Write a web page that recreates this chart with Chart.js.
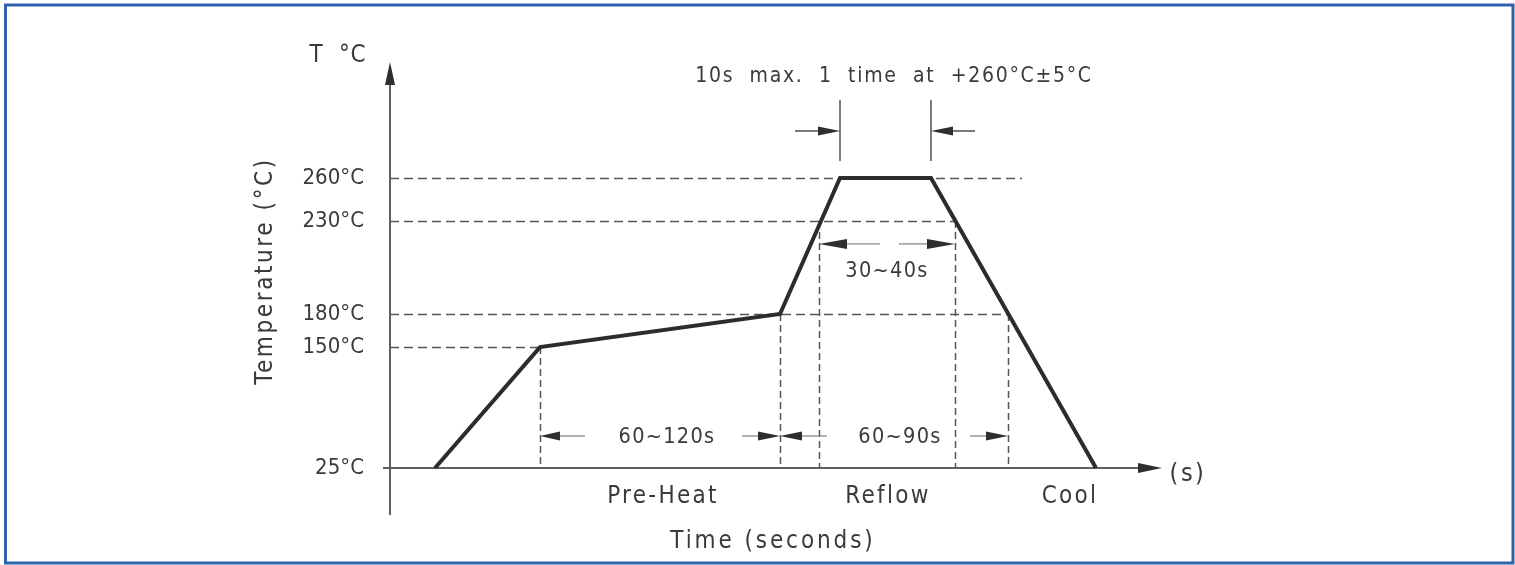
<!DOCTYPE html>
<html>
<head>
<meta charset="utf-8">
<script src="https://cdn.jsdelivr.net/npm/chart.js@4"></script>
<style>
  html, body { margin: 0; padding: 0; background: #fff; }
  #wrap { width: 1515px; height: 565px; position: relative; }
</style>
</head>
<body>
<div id="wrap"><canvas id="chart-profile"></canvas></div>
<script>
// ── Data ──

const tempTicks = [25, 150, 180, 230, 260];          // °C marks on the axis
const profileTime = [22.5, 75, 195, 225, 270.5, 353]; // schematic time units
const profileTemp = [25, 150, 180, 260, 260, 25];

// where the curve passes 230°C / 180°C
const peakIn = 214.5;
const peakOut = 282.5;
const reflowIn = 195;
const reflowOut = 309;
const preheatIn = 75;

const phaseNames = ['Pre-Heat', 'Reflow', 'Cool'];
const phaseTimes = [136.5, 249, 340];
const spanLabels = ['60~120s', '60~90s', '30~40s'];
const peakNote = '10s  max.  1  time  at  +260°C±5°C';

// the drawing is not to scale: where each mark sits on the y axis (0 = bottom, 1 = top)
const tickSpots = [0, 0.417, 0.531, 0.852, 1];

const INK = '#3a3a3a';
const GUIDE = '#555';
const FONT = "'DejaVu Sans Condensed', 'DejaVu Sans', sans-serif";
Chart.defaults.font.family = FONT;
Chart.defaults.color = INK;

function toFrac(v) {
    for (let i = 1; i < tempTicks.length; i++) {
        if (v <= tempTicks[i] || i === tempTicks.length - 1) {
            const a = tempTicks[i - 1], b = tempTicks[i];
            return tickSpots[i - 1] + (v - a) / (b - a) * (tickSpots[i] - tickSpots[i - 1]);
        }
    }
}

function fromFrac(f) {
    for (let i = 1; i < tickSpots.length; i++) {
        if (f <= tickSpots[i] || i === tickSpots.length - 1) {
            const a = tickSpots[i - 1], b = tickSpots[i];
            return tempTicks[i - 1] + (f - a) / (b - a) * (tempTicks[i] - tempTicks[i - 1]);
        }
    }
}

class SchematicScale extends Chart.LinearScale {
    static id = 'schematic';
    static defaults = Chart.LinearScale.defaults;
    getPixelForValue(value) {
        return this.getPixelForDecimal(toFrac(value));
    }
    getValueForPixel(pixel) {
        return fromFrac(this.getDecimalForPixel(pixel));
    }
}
Chart.register(SchematicScale);

// ── Drawing helpers ──

const crisp = v => Math.round(v) + 0.5;

function dashed(ctx, x1, y1, x2, y2, dash) {
    ctx.save();
    ctx.strokeStyle = GUIDE;
    ctx.lineWidth = 1.5;
    ctx.setLineDash(dash || [9, 5]);
    ctx.beginPath();
    if (y1 === y2) {
        ctx.moveTo(x1, crisp(y1));
        ctx.lineTo(x2, crisp(y2));
    } else {
        ctx.moveTo(crisp(x1), y1);
        ctx.lineTo(crisp(x2), y2);
    }
    ctx.stroke();
    ctx.restore();
}

function line(ctx, x1, y1, x2, y2, color, w) {
    ctx.save();
    ctx.strokeStyle = color;
    ctx.lineWidth = w;
    ctx.beginPath();
    ctx.moveTo(x1, y1);
    ctx.lineTo(x2, y2);
    ctx.stroke();
    ctx.restore();
}

// arrow whose tip is at (x2, y2)
function arrow(ctx, x1, y1, x2, y2, head, half, shaftColor) {
    const ang = Math.atan2(y2 - y1, x2 - x1);
    const bx = x2 - Math.cos(ang) * head, by = y2 - Math.sin(ang) * head;
    line(ctx, x1, y1, bx, by, shaftColor || GUIDE, 1.3);
    ctx.save();
    ctx.fillStyle = '#2e2e2e';
    ctx.beginPath();
    ctx.moveTo(x2, y2);
    ctx.lineTo(bx - Math.sin(ang) * half, by + Math.cos(ang) * half);
    ctx.lineTo(bx + Math.sin(ang) * half, by - Math.cos(ang) * half);
    ctx.closePath();
    ctx.fill();
    ctx.restore();
}

function text(ctx, str, x, y, size, opts = {}) {
    ctx.save();
    ctx.font = `${size}px ${FONT}`;
    ctx.fillStyle = INK;
    ctx.textAlign = opts.align || 'center';
    ctx.textBaseline = 'middle';
    if (opts.spacing) ctx.letterSpacing = opts.spacing + 'px';
    ctx.translate(x, y);
    if (opts.rotate) ctx.rotate(opts.rotate);
    ctx.fillText(str, 0, 0);
    ctx.restore();
}

// ── Profile annotations ──

const profileDecor = {
    id: 'profileDecor',
    beforeDraw(chart) {
        const ctx = chart.ctx;
        ctx.save();
        ctx.fillStyle = '#fff';
        ctx.fillRect(0, 0, chart.width, chart.height);
        // frame
        ctx.strokeStyle = '#2f62ad';
        ctx.lineWidth = 3;
        ctx.strokeRect(5.5, 5, 1507.5, 558);
        ctx.restore();
    },
    beforeDatasetsDraw(chart) {
        const ctx = chart.ctx;
        const xs = chart.scales.x, ys = chart.scales.y;
        const X = t => xs.getPixelForValue(t);
        const Y = v => ys.getPixelForValue(v);
        const x0 = chart.chartArea.left;
        const base = Y(25);

        // level guides
        dashed(ctx, x0, Y(260), X(316), Y(260));
        dashed(ctx, x0, Y(230), X(peakOut), Y(230));
        dashed(ctx, x0, Y(180), X(reflowOut), Y(180));
        dashed(ctx, x0, Y(150), X(preheatIn), Y(150));

        // time guides
        dashed(ctx, X(preheatIn), Y(150), X(preheatIn), base, [7, 4]);
        dashed(ctx, X(reflowIn), Y(180), X(reflowIn), base, [7, 4]);
        dashed(ctx, X(peakIn), Y(230), X(peakIn), base, [7, 4]);
        dashed(ctx, X(peakOut), Y(230), X(peakOut), base, [7, 4]);
        dashed(ctx, X(reflowOut), Y(180), X(reflowOut), base, [7, 4]);

        // axes
        arrow(ctx, x0, 515, x0, 62, 23, 5, '#555');
        line(ctx, x0, 515, x0, 85, '#555', 1.6);
        arrow(ctx, 383, base, chart.chartArea.right, base, 24, 5, '#555');
        line(ctx, 383, base, chart.chartArea.right - 24, base, '#555', 1.6);

        // peak time marks
        const pA = X(profileTime[3]), pB = X(profileTime[4]);
        line(ctx, pA, Y(260) - 78, pA, Y(260) - 17, '#333', 1.3);
        line(ctx, pB, Y(260) - 78, pB, Y(260) - 17, '#333', 1.3);
        arrow(ctx, pA - 45, Y(260) - 47, pA, Y(260) - 47, 22, 4.5, '#333');
        arrow(ctx, pB + 44, Y(260) - 47, pB, Y(260) - 47, 22, 4.5, '#333');

        // span arrows
        const row = base - 32;
        arrow(ctx, X(preheatIn) + 45, row, X(preheatIn), row, 20, 4.5, '#888');
        arrow(ctx, 742, row, X(reflowIn), row, 22, 4.5, '#888');
        arrow(ctx, X(reflowIn) + 47, row, X(reflowIn), row, 22, 4.5, '#888');
        arrow(ctx, 970, row, X(reflowOut), row, 22, 4.5, '#888');

        const row2 = Y(230) + 23;
        arrow(ctx, 880, row2, X(peakIn), row2, 28, 5, '#888');
        arrow(ctx, 899, row2, X(peakOut), row2, 28, 5, '#888');
    },
    afterDraw(chart) {
        const ctx = chart.ctx;
        const xs = chart.scales.x, ys = chart.scales.y;
        const X = t => xs.getPixelForValue(t);
        const Y = v => ys.getPixelForValue(v);
        const base = Y(25);

        text(ctx, 'T  °C', 338, 56, 24, { spacing: 0.8 });
        text(ctx, 'Temperature (°C)', 266, 271, 24, { rotate: -Math.PI / 2, spacing: 2.6 });
        text(ctx, peakNote, X(252), 77, 21, { spacing: 1.7 });

        text(ctx, spanLabels[0], 667, base - 31, 21.5, { spacing: 1.3 });
        text(ctx, spanLabels[1], 900, base - 31, 21.5, { spacing: 1.3 });
        text(ctx, spanLabels[2], 887, Y(230) + 51, 21.5, { spacing: 1.3 });

        phaseNames.forEach((name, i) => {
            text(ctx, name, X(phaseTimes[i]), 497, 24, { spacing: 2.3 });
        });
        text(ctx, 'Time (seconds)', 773, 542, 24, { spacing: 2.9 });
        text(ctx, '(s)', 1188, 474, 25, { spacing: 2.5 });
    }
};

// ── Chart ──

const ctx = document.getElementById('chart-profile').getContext('2d');
new Chart(ctx, {
    type: 'line',
    data: {
        datasets: [{
            label: 'Reflow profile',
            data: profileTime.map((t, i) => ({ x: t, y: profileTemp[i] })),
            borderColor: '#2c2c2c',
            borderWidth: 4,
            pointRadius: 0,
            tension: 0,
            fill: false,
            clip: false,
        }]
    },
    options: {
        responsive: true,
        maintainAspectRatio: false,
        animation: false,
        events: [],
        layout: { padding: { left: 0, right: 353, top: 178, bottom: 97 } },
        plugins: {
            legend: { display: false },
            tooltip: { enabled: false },
        },
        scales: {
            x: {
                type: 'linear',
                min: 0,
                max: 386,
                display: false,
            },
            y: {
                type: 'schematic',
                min: 25,
                max: 260,
                afterFit: scale => { scale.width = 390; },
                afterBuildTicks: scale => { scale.ticks = tempTicks.map(v => ({ value: v })); },
                grid: { display: false, drawTicks: false },
                border: { display: false },
                ticks: {
                    padding: 26,
                    color: INK,
                    font: { size: 22 },
                    callback: v => v + '°C',
                },
            }
        }
    },
    plugins: [profileDecor]
});
</script>
</body>
</html>
